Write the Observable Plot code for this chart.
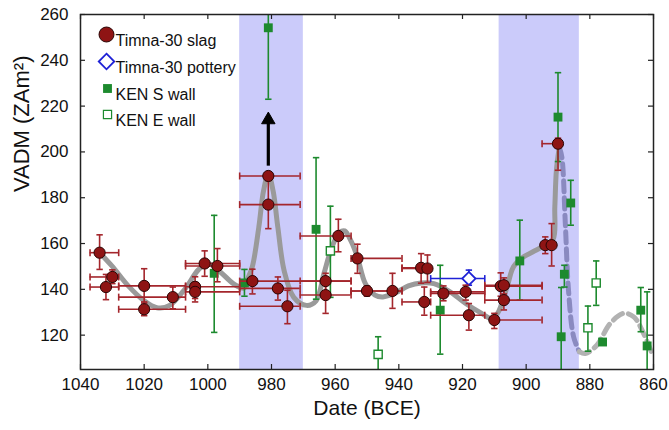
<!DOCTYPE html>
<html>
<head>
<meta charset="utf-8">
<script src="https://cdn.jsdelivr.net/npm/d3@7"></script>
<script src="https://cdn.jsdelivr.net/npm/@observablehq/plot@0.6"></script>
<style>
  html, body { margin: 0; padding: 0; background: #fff; }
  #chart svg { display: block; }
</style>
</head>
<body>
<div id="chart"></div>
<script>
// Axis ticks
const xTicks = [1040, 1020, 1000, 980, 960, 940, 920, 900, 880, 860];
const yTicks = [120, 140, 160, 180, 200, 220, 240, 260];

// Periods of high field intensity (shaded bands), years BCE
const bandFrom = [990, 908.5];
const bandTo = [970, 883.3];

// Timna-30 slag: date, VADM and their uncertainty ranges
const slagYear   = [1034, 1030, 1032, 1020, 1020, 1011, 1004, 1004, 1001, 997, 986, 981, 981, 978, 975, 963, 963, 959, 953, 950, 942, 933, 931, 932, 926, 919, 918, 910, 908, 907, 907, 894, 892, 890];
const slagVadm   = [156, 145.4, 141, 141.5, 131.3, 136.6, 141.1, 138.9, 151.3, 150.2, 143.6, 189.5, 177, 140.4, 132.6, 143.6, 137.5, 163.3, 153.5, 139.3, 139.3, 149.4, 149.1, 134.5, 138.2, 138.9, 128.7, 126.6, 141.4, 141.8, 135.3, 159.3, 159.3, 203.6];
const slagYearLo = [1037, 1037, 1037, 1028, 1028, 1028, 1007, 1007, 1007, 1007, 990, 990, 990, 990, 990, 971, 971, 971, 955, 955, 955, 939, 939, 939, 930, 930, 930, 910, 913, 913, 913, 894, 892, 895];
const slagYearHi = [1028, 1028, 1028, 1007, 1007, 1007, 990, 990, 990, 990, 955, 971, 971, 971, 971, 955, 955, 955, 939, 939, 939, 931, 931, 930, 913, 913, 913, 895, 895, 895, 895, 894, 892, 890];
const slagVadmLo = [148.7, 142.5, 135.5, 134, 128.5, 131.5, 136, 134.5, 145.7, 143.3, 138, 189.5, 166.5, 135.3, 125, 139, 129.5, 156.4, 147, 137, 131.7, 142.7, 143, 128.7, 135, 135.3, 122.2, 122.9, 137, 138, 131, 155.6, 150.2, 192];
const slagVadmHi = [163.8, 148.5, 146.5, 149, 134.5, 141, 145.5, 143, 156.8, 157.8, 148.8, 189.5, 187.5, 145.4, 139.6, 147, 142, 170.6, 159.7, 141.5, 147, 155.6, 155, 141, 141.5, 141.8, 133.8, 129.5, 147.2, 145, 140.5, 162.9, 168.7, 206];

// Timna-30 pottery
const potYear = [918];
const potVadm = [144.7];
const potYearLo = [930];
const potYearHi = [913];
const potVadmLo = [141.8];
const potVadmHi = [148.4];

// KEN S wall
const kenSYear = [998, 988.5, 981, 966, 927, 902, 890, 888, 889, 886, 876, 864, 862];
const kenSVadm = [147, 142.8, 254.2, 166.2, 130.9, 152.4, 215.2, 146.6, 119.3, 177.7, 117, 130.9, 115.3];
const kenSLo   = [121.2, 137, 223, 135.7, 111.7, 135.3, 195.8, 141, 97.8, 168, 117, 121.5, 92];
const kenSHi   = [172.3, 148.7, 285, 197.5, 150.5, 170.2, 234.6, 150.5, 140.8, 187.6, 117, 140.8, 138.9];

// KEN E wall
const kenEYear = [961.5, 946.5, 880.6, 878];
const kenEVadm = [156.8, 111.6, 123.2, 142.8];
const kenELo   = [136.5, 103.6, 113, 133];
const kenEHi   = [176.3, 119.3, 132.7, 152.4];

// Smoothed intensity curve (solid part)
const curveYear = [1034, 1030, 1025, 1020, 1016, 1012, 1007, 1003, 1000, 996, 992, 988.7, 987.5, 986, 984, 982.5, 981, 979.5, 978, 976, 973, 969, 966, 963.5, 961, 958.5, 957, 955, 953, 950.5, 947.5, 945, 941, 937, 933, 929, 924, 919, 914, 911, 909, 906, 904, 901, 898, 894, 891.5, 891, 890.5, 889.6];
const curveVadm = [156, 150, 141.5, 135, 132, 133, 140.5, 148.5, 151.3, 147.5, 142.5, 140.5, 144.5, 150, 167, 183, 190.5, 183, 167, 148, 136.5, 133, 135, 147, 158.5, 165, 165.5, 161, 154, 142.5, 137.5, 136.7, 138.5, 141.5, 142.8, 142.5, 139, 133.8, 129.5, 127.3, 129.5, 141, 149.8, 154, 156.3, 159.3, 162, 176, 192, 202];

// Less certain continuation (dashed): inside and after the second band
const dashInYear = [889.6, 888.8, 887.7, 886.7, 885.1, 883.3];
const dashInVadm = [202, 197.8, 168.7, 139.6, 119.3, 112.8];
const dashOutYear = [883.3, 881.4, 877.8, 873.6, 869.4, 866.2, 863.1, 860.5];
const dashOutVadm = [112.8, 112, 115.6, 125.1, 129.5, 128, 120.7, 112];

// Lower bound arrow on the 981 BCE slag value
const arrowYear = [981];
const arrowFrom = [194];
const arrowTo = [214];

// Legend labels
const legendLabels = ["Timna-30 slag", "Timna-30 pottery", "KEN S wall", "KEN E wall"];

// Build row tables
const slag = slagYear.map((d, i) => ({year: d, v: slagVadm[i], x1: slagYearLo[i], x2: slagYearHi[i], y1: slagVadmLo[i], y2: slagVadmHi[i]}));
const pottery = potYear.map((d, i) => ({year: d, v: potVadm[i], x1: potYearLo[i], x2: potYearHi[i], y1: potVadmLo[i], y2: potVadmHi[i]}));
const kenS = kenSYear.map((d, i) => ({year: d, v: kenSVadm[i], y1: kenSLo[i], y2: kenSHi[i]}));
const kenE = kenEYear.map((d, i) => ({year: d, v: kenEVadm[i], y1: kenELo[i], y2: kenEHi[i]}));
const bands = bandFrom.map((d, i) => ({from: d, to: bandTo[i]}));
const curve = curveYear.map((d, i) => ({year: d, v: curveVadm[i]}));
const dashIn = dashInYear.map((d, i) => ({year: d, v: dashInVadm[i]}));
const dashOut = dashOutYear.map((d, i) => ({year: d, v: dashOutVadm[i]}));
const arrows = arrowYear.map((d, i) => ({year: d, from: arrowFrom[i], to: arrowTo[i]}));

// Error-bar cap symbols
const vCap = {draw(ctx, size) { const r = Math.sqrt(size / Math.PI); ctx.moveTo(0, -r); ctx.lineTo(0, r); }};
const hCap = {draw(ctx, size) { const r = Math.sqrt(size / Math.PI); ctx.moveTo(-r, 0); ctx.lineTo(r, 0); }};

const RED = "#a4262c";
const GREEN = "#1d8a2e";
const BLUE = "#1f22d6";
const SLAG = "#8e1414";

function xBars(data, color) {
  const d = data.filter(r => r.x1 !== r.x2);
  return [
    Plot.ruleY(d, {y: "v", x1: "x1", x2: "x2", stroke: color, strokeWidth: 1.6, clip: true}),
    Plot.dot(d, {x: "x1", y: "v", symbol: vCap, r: 3.5, stroke: color, fill: "none", strokeWidth: 1.6, clip: true}),
    Plot.dot(d, {x: "x2", y: "v", symbol: vCap, r: 3.5, stroke: color, fill: "none", strokeWidth: 1.6, clip: true})
  ];
}
function yBars(data, color) {
  const d = data.filter(r => r.y1 !== r.y2);
  return [
    Plot.ruleX(d, {x: "year", y1: "y1", y2: "y2", stroke: color, strokeWidth: 1.6, clip: true}),
    Plot.dot(d, {x: "year", y: "y1", symbol: hCap, r: 3.2, stroke: color, fill: "none", strokeWidth: 1.6, clip: true}),
    Plot.dot(d, {x: "year", y: "y2", symbol: hCap, r: 3.2, stroke: color, fill: "none", strokeWidth: 1.6, clip: true})
  ];
}

// Frame size, for the short inward tick marks
const W = 669, H = 430, ML = 80, MR = 16, MT = 14, MB = 61;
const innerW = W - ML - MR, innerH = H - MT - MB, TICK = 5;

const chart = Plot.plot({
  width: W,
  height: H,
  marginLeft: ML,
  marginRight: MR,
  marginTop: MT,
  marginBottom: MB,
  style: {fontFamily: "'Liberation Sans', Arial, Helvetica, sans-serif", fontSize: "17px", color: "#111", background: "#fff"},
  x: {domain: [1040, 860], ticks: xTicks},
  y: {domain: [105, 260], ticks: yTicks},
  marks: [
    Plot.rect(bands, {x1: "from", x2: "to", fill: "#cbcbfa"}),
    Plot.line(curve, {x: "year", y: "v", stroke: "#9a9a9a", strokeWidth: 5, curve: "catmull-rom", clip: true}),
    Plot.line(dashIn, {x: "year", y: "v", stroke: "#8a8ac0", strokeWidth: 5, strokeDasharray: "11,6", curve: "catmull-rom", clip: true}),
    Plot.line(dashOut, {x: "year", y: "v", stroke: "#b2b2b2", strokeWidth: 5, strokeDasharray: "11,6", curve: "catmull-rom", clip: true}),
    ...yBars(kenS, GREEN),
    ...yBars(kenE, GREEN),
    Plot.dot(kenS, {x: "year", y: "v", symbol: "square", r: 5, fill: GREEN, stroke: "none", clip: true}),
    Plot.dot(kenE, {x: "year", y: "v", symbol: "square", r: 4.6, fill: "white", stroke: GREEN, strokeWidth: 1.4, clip: true}),
    ...xBars(pottery, BLUE),
    ...yBars(pottery, BLUE),
    Plot.dot(pottery, {x: "year", y: "v", symbol: "diamond2", r: 6, fill: "white", stroke: BLUE, strokeWidth: 1.8}),
    ...xBars(slag, RED),
    ...yBars(slag, RED),
    Plot.dot(slag, {x: "year", y: "v", r: 5.6, fill: SLAG, stroke: "#2a0505", strokeWidth: 1}),
    // arrow: shaft plus filled head
    Plot.link(arrows, {x1: "year", x2: "year", y1: "from", y2: "to", stroke: "black", strokeWidth: 3.2}),
    Plot.dot(arrows, {x: "year", y: "to", symbol: "triangle", r: 5, fill: "black", stroke: "black", strokeWidth: 1}),
    // tick labels
    Plot.axisX({anchor: "bottom", ticks: xTicks, tickSize: 0, tickPadding: 8, tickFormat: d => String(d), label: null, fontSize: 17}),
    Plot.axisY({anchor: "left", ticks: yTicks, tickSize: 0, tickPadding: 12, tickFormat: d => String(d), label: null, fontSize: 17}),
    // inward tick marks on all four sides
    Plot.tickX(xTicks, {x: d => d, insetTop: innerH - TICK, stroke: "#222", strokeWidth: 1.2}),
    Plot.tickX(xTicks, {x: d => d, insetBottom: innerH - TICK, stroke: "#222", strokeWidth: 1.2}),
    Plot.tickY(yTicks, {y: d => d, insetRight: innerW - TICK, stroke: "#222", strokeWidth: 1.2}),
    Plot.tickY(yTicks, {y: d => d, insetLeft: innerW - TICK, stroke: "#222", strokeWidth: 1.2}),
    Plot.frame({stroke: "#222", strokeWidth: 1.5}),
    Plot.text(["Date (BCE)"], {frameAnchor: "bottom", dy: 45, fontSize: 21}),
    Plot.text(["VADM (ZAm²)"], {frameAnchor: "left", dx: -59, rotate: -90, fontSize: 22}),
    // legend
    Plot.dot([0], {frameAnchor: "top-left", dx: 26, dy: 20, r: 7.5, fill: SLAG, stroke: "#2a0505", strokeWidth: 1}),
    Plot.dot([0], {frameAnchor: "top-left", dx: 26, dy: 47, symbol: "diamond2", r: 7, fill: "white", stroke: BLUE, strokeWidth: 1.8}),
    Plot.dot([0], {frameAnchor: "top-left", dx: 27, dy: 74, symbol: "square", r: 5, fill: GREEN}),
    Plot.dot([0], {frameAnchor: "top-left", dx: 27, dy: 100, symbol: "square", r: 4.6, fill: "white", stroke: GREEN, strokeWidth: 1.2}),
    Plot.text([legendLabels[0]], {frameAnchor: "top-left", dx: 35, dy: 20, textAnchor: "start", fontSize: 16}),
    Plot.text([legendLabels[1]], {frameAnchor: "top-left", dx: 35, dy: 47, textAnchor: "start", fontSize: 16}),
    Plot.text([legendLabels[2]], {frameAnchor: "top-left", dx: 35, dy: 74, textAnchor: "start", fontSize: 16}),
    Plot.text([legendLabels[3]], {frameAnchor: "top-left", dx: 35, dy: 100, textAnchor: "start", fontSize: 16})
  ]
});
document.getElementById("chart").appendChild(chart);
</script>
</body>
</html>
